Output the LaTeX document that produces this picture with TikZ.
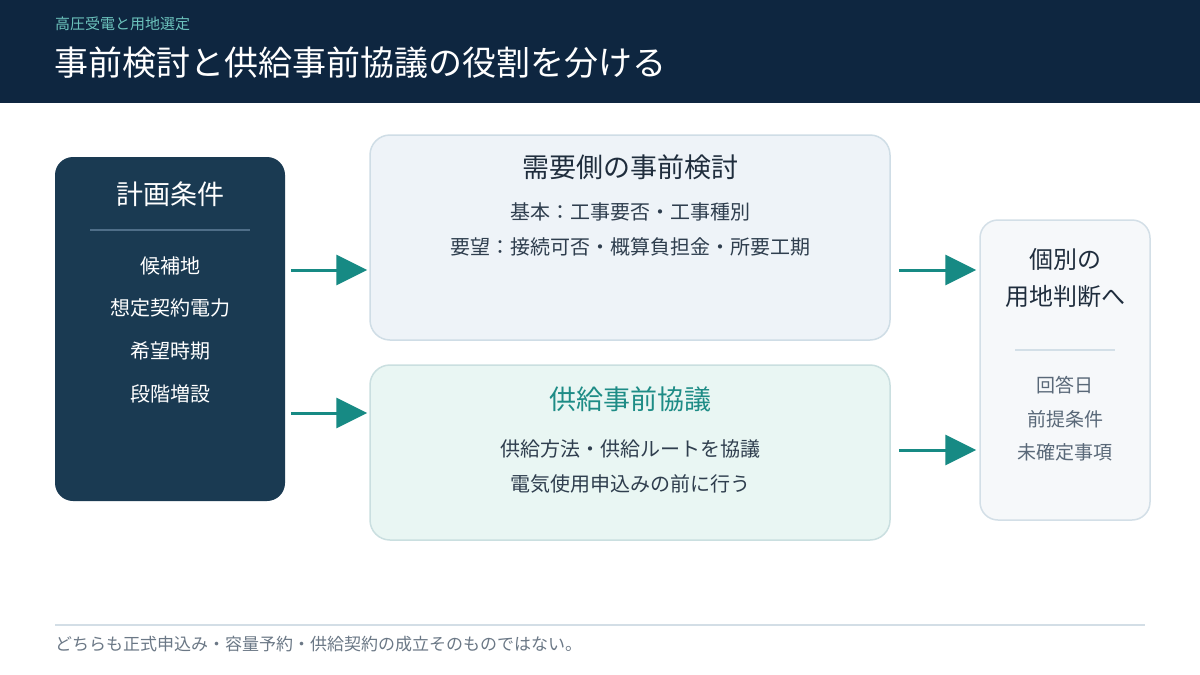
\documentclass[tikz,border=0pt]{standalone}
\usepackage{fontspec}
\setmainfont{Noto Sans CJK JP}
\usetikzlibrary{arrows.meta}
\definecolor{hdrbg}{HTML}{0E2640}
\definecolor{subteal}{HTML}{6CC3BD}
\definecolor{leftbg}{HTML}{1A3A52}
\definecolor{leftline}{HTML}{4F6E88}
\definecolor{arrowc}{HTML}{178A84}
\definecolor{topfill}{HTML}{EEF3F8}
\definecolor{topborder}{HTML}{CFDDE6}
\definecolor{botfill}{HTML}{E9F6F3}
\definecolor{botborder}{HTML}{CADFE0}
\definecolor{tealtext}{HTML}{1E8C86}
\definecolor{rightfill}{HTML}{F6F8FA}
\definecolor{rightborder}{HTML}{D3DFE7}
\definecolor{graytext}{HTML}{596878}
\definecolor{darktext}{HTML}{1F2D3D}
\definecolor{bodytext}{HTML}{2F3E4E}
\definecolor{footline}{HTML}{D3DEE6}
\definecolor{foottext}{HTML}{6B7886}
\begin{document}
\begin{tikzpicture}[x=1pt,y=-1pt,
  box/.style={draw, line width=1.5pt, rounded corners=20pt, inner sep=0pt},
  txt/.style={inner sep=0pt, anchor=center},
  boxtitle/.style={txt, font=\fontsize{27}{32}\selectfont},
  body/.style={txt, font=\fontsize{20}{24}\selectfont, text=bodytext},
  litem/.style={txt, font=\fontsize{20}{24}\selectfont, text=white},
  ritem/.style={txt, font=\fontsize{19}{23}\selectfont, text=graytext},
  arr/.style={draw=arrowc, line width=3pt, -{Triangle[length=31pt,width=30pt]}}
]
\useasboundingbox (0,0) rectangle (1200,675);
\fill[white] (0,0) rectangle (1200,675);
% header
\fill[hdrbg] (0,0) rectangle (1200,103);
\node[inner sep=0pt, anchor=west, text=subteal, font=\fontsize{15}{18}\selectfont] (sub) at (55,24) {高圧受電と用地選定};
\node[inner sep=0pt, anchor=west, text=white, font=\fontsize{34}{40}\selectfont] (title) at (54,63) {事前検討と供給事前協議の役割を分ける};
% boxes
\node[box, draw=none, fill=leftbg, rounded corners=18pt, minimum width=230pt, minimum height=344pt] (L) at (170,329) {};
\node[box, draw=topborder, fill=topfill, minimum width=520pt, minimum height=205pt] (T) at (630,237.5) {};
\node[box, draw=botborder, fill=botfill, minimum width=520pt, minimum height=175pt] (B) at (630,452.5) {};
\node[box, draw=rightborder, fill=rightfill, rounded corners=18pt, minimum width=170pt, minimum height=300pt] (R) at (1065,370) {};
% left box content
\node[boxtitle, text=white] (Lt) at (170,194) {計画条件};
\draw[leftline, line width=1.5pt] (90,230) -- (250,230);
\node[litem] (L1) at (170,266) {候補地};
\node[litem] (L2) at (170,308) {想定契約電力};
\node[litem] (L3) at (170,351) {希望時期};
\node[litem] (L4) at (170,394) {段階増設};
% top box content
\node[boxtitle, text=darktext] (Tt) at (630,167) {需要側の事前検討};
\node[body] (T1) at (630,212) {基本：工事要否・工事種別};
\node[body] (T2) at (630,247) {要望：接続可否・概算負担金・所要工期};
% bottom box content
\node[boxtitle, text=tealtext] (Bt) at (630,399) {供給事前協議};
\node[body] (B1) at (630,449) {供給方法・供給ルートを協議};
\node[body] (B2) at (630,484) {電気使用申込みの前に行う};
% right box content
\node[txt, text=darktext, align=center, font=\fontsize{24}{37}\selectfont] (Rt) at (1065,278.5) {個別の\\用地判断へ};
\draw[rightborder, line width=1.5pt] (1015,350) -- (1115,350);
\node[ritem] (R1) at (1065,385) {回答日};
\node[ritem] (R2) at (1065,419) {前提条件};
\node[ritem] (R3) at (1065,452) {未確定事項};
% arrows
\coordinate (r1) at (0,270);
\coordinate (r2) at (0,413);
\coordinate (r3) at (0,450);
\draw[arr, shorten <=5pt, shorten >=2pt] (L.east |- r1) -- (T.west |- r1);
\draw[arr, shorten <=5pt, shorten >=2pt] (L.east |- r2) -- (B.west |- r2);
\draw[arr, shorten <=8pt, shorten >=3pt] (T.east |- r1) -- (R.west |- r1);
\draw[arr, shorten <=8pt, shorten >=3pt] (B.east |- r3) -- (R.west |- r3);
% footer
\draw[footline, line width=2pt] (55,625) -- (1145,625);
\node[inner sep=0pt, anchor=west, text=foottext, font=\fontsize{17}{20}\selectfont] (foot) at (55,644) {どちらも正式申込み・容量予約・供給契約の成立そのものではない。};
\end{tikzpicture}
\end{document}
